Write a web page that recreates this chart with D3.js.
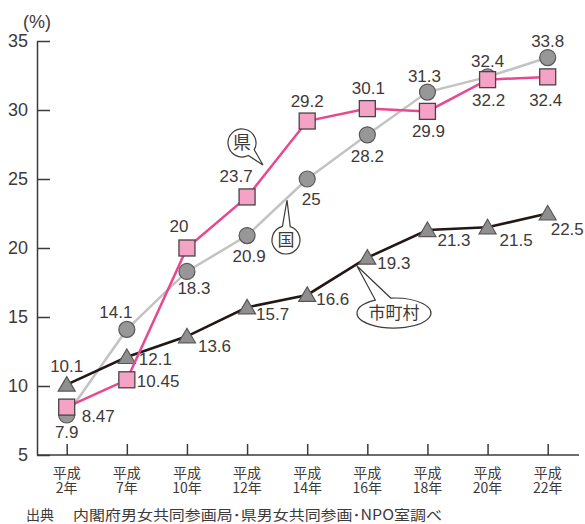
<!DOCTYPE html>
<html>
<head>
<meta charset="utf-8">
<script src="https://cdn.jsdelivr.net/npm/d3@7"></script>
<style>
  body { margin: 0; background: #fff; }
  svg { font-family: "Liberation Sans", Arial, "Noto Sans CJK JP", sans-serif; }
  text { fill: #3e3a39; }
</style>
</head>
<body>
<div id="chart"></div>
<script>
const WIDTH = 585;
const HEIGHT = 524;

// data
const years = ['平成2年', '平成7年', '平成10年', '平成12年', '平成14年', '平成16年', '平成18年', '平成20年', '平成22年'];
const kuni = [7.9, 14.1, 18.3, 20.9, 25, 28.2, 31.3, 32.4, 33.8];
const ken = [8.47, 10.45, 20, 23.7, 29.2, 30.1, 29.9, 32.2, 32.4];
const shichoson = [10.1, 12.1, 13.6, 15.7, 16.6, 19.3, 21.3, 21.5, 22.5];
const kuniText = ['7.9', '14.1', '18.3', '20.9', '25', '28.2', '31.3', '32.4', '33.8'];
const kenText = ['8.47', '10.45', '20', '23.7', '29.2', '30.1', '29.9', '32.2', '32.4'];
const shichosonText = ['10.1', '12.1', '13.6', '15.7', '16.6', '19.3', '21.3', '21.5', '22.5'];
const yTicks = [5, 10, 15, 20, 25, 30, 35];

// label offsets from each point [dx, dy, anchor]
const kuniLabelPos = [[0, 23, 'middle'], [-11, -11, 'middle'], [7, 23, 'middle'], [2, 26, 'middle'], [4, 26, 'middle'],
  [0, 27, 'middle'], [-3, -10, 'middle'], [0, -10, 'middle'], [0, -11, 'middle']];
const kenLabelPos = [[15, 15, 'start'], [10, 7, 'start'], [-8, -16, 'middle'], [-11, -15, 'middle'], [0, -14, 'middle'],
  [1, -15, 'middle'], [1, 26, 'middle'], [1, 26, 'middle'], [-2, 29, 'middle']];
const shichosonLabelPos = [[0, -13, 'middle'], [12, 8, 'start'], [11, 16, 'start'], [9, 13, 'start'], [9, 10, 'start'],
  [10, 11, 'start'], [10, 16, 'start'], [12, 19, 'start'], [3, 21, 'start']];

const svg = d3.select('#chart')
  .append('svg')
  .attr('width', WIDTH)
  .attr('height', HEIGHT);

const x = d3.scalePoint()
  .domain(years)
  .range([66.7, 547.7]);

const y = d3.scaleLinear()
  .domain([5, 35])
  .range([455, 41]);

const AXIS_COLOR = '#3e3a39';

// y axis, ticks pointing inward
const yAxis = svg.append('g')
  .attr('transform', 'translate(37,0)')
  .call(d3.axisLeft(y).tickValues(yTicks).tickSize(-13).tickSizeOuter(0).tickPadding(9));
yAxis.select('.domain').attr('stroke', AXIS_COLOR).attr('stroke-width', 1.5);
yAxis.selectAll('.tick line').attr('stroke', AXIS_COLOR).attr('stroke-width', 1.5);
yAxis.selectAll('.tick text')
  .attr('font-size', 18)
  .attr('font-family', null)
  .attr('fill', '#3e3a39');

svg.append('text')
  .attr('x', 37)
  .attr('y', 28)
  .attr('text-anchor', 'middle')
  .attr('font-size', 18)
  .text('(%)');

// x axis: line runs the whole width
svg.append('line')
  .attr('x1', 37).attr('x2', 579)
  .attr('y1', y(5)).attr('y2', y(5))
  .attr('stroke', AXIS_COLOR)
  .attr('stroke-width', 1.5);

const xAxis = svg.append('g')
  .attr('transform', `translate(0,${y(5)})`)
  .call(d3.axisBottom(x).tickSize(-11).tickSizeOuter(0).tickFormat(''));
xAxis.select('.domain').remove();
xAxis.selectAll('.tick line').attr('stroke', AXIS_COLOR).attr('stroke-width', 1.5);

const xLabels = svg.append('g').attr('font-family', '"Noto Sans CJK JP", sans-serif');
years.forEach(d => {
  const t = xLabels.append('text')
    .attr('text-anchor', 'middle')
    .attr('font-size', 14)
    .attr('x', x(d));
  t.append('tspan').attr('x', x(d)).attr('y', 478).text(d.slice(0, 2));
  t.append('tspan').attr('x', x(d)).attr('y', 493).text(d.slice(2));
});

// source note
svg.append('text')
  .attr('x', 26)
  .attr('y', 520)
  .attr('font-size', 14)
  .attr('font-family', '"Noto Sans CJK JP", sans-serif')
  .text('出典');
svg.append('text')
  .attr('x', 73)
  .attr('y', 520)
  .attr('font-size', 14)
  .attr('font-family', '"Noto Sans CJK JP", sans-serif')
  .attr('textLength', 369)
  .attr('lengthAdjust', 'spacingAndGlyphs')
  .text('内閣府男女共同参画局･県男女共同参画･NPO室調べ');

const line = d3.line()
  .x((d, i) => x(years[i]))
  .y(d => y(d));

// 国
svg.append('path')
  .datum(kuni)
  .attr('d', line)
  .attr('fill', 'none')
  .attr('stroke', '#c3c3c3')
  .attr('stroke-width', 2.5);
svg.append('g').selectAll('circle')
  .data(kuni)
  .join('circle')
  .attr('cx', (d, i) => x(years[i]))
  .attr('cy', d => y(d))
  .attr('r', 8)
  .attr('fill', '#979797')
  .attr('stroke', '#5a5657')
  .attr('stroke-width', 1.2);

// 市町村
svg.append('path')
  .datum(shichoson)
  .attr('d', line)
  .attr('fill', 'none')
  .attr('stroke', '#231815')
  .attr('stroke-width', 2.6);
svg.append('g').selectAll('path')
  .data(shichoson)
  .join('path')
  .attr('transform', (d, i) => `translate(${x(years[i])},${y(d)})`)
  .attr('d', 'M0,-8L8.5,6.5L-8.5,6.5Z')
  .attr('fill', '#8f8f8f')
  .attr('stroke', '#5a5657')
  .attr('stroke-width', 1.2);

// 県
svg.append('path')
  .datum(ken)
  .attr('d', line)
  .attr('fill', 'none')
  .attr('stroke', '#e8488d')
  .attr('stroke-width', 2.5);
svg.append('g').selectAll('rect')
  .data(ken)
  .join('rect')
  .attr('x', (d, i) => x(years[i]) - 8)
  .attr('y', d => y(d) - 8)
  .attr('width', 16)
  .attr('height', 16)
  .attr('fill', '#f4a3c6')
  .attr('stroke', '#4a4344')
  .attr('stroke-width', 1.3);

// callout bubbles
function callout(cx, cy, rx, ry, tx, ty, gap, label, size) {
  const t0 = Math.atan2((ty - cy) / ry, (tx - cx) / rx);
  const a = [cx + rx * Math.cos(t0 - gap), cy + ry * Math.sin(t0 - gap)];
  const b = [cx + rx * Math.cos(t0 + gap), cy + ry * Math.sin(t0 + gap)];
  svg.append('path')
    .attr('d', `M${b[0]},${b[1]}A${rx},${ry} 0 1 1 ${a[0]},${a[1]}L${tx},${ty}Z`)
    .attr('fill', '#fff')
    .attr('stroke', '#3e3a39')
    .attr('stroke-width', 1.2);
  svg.append('text')
    .attr('x', cx)
    .attr('y', cy)
    .attr('dy', '0.36em')
    .attr('text-anchor', 'middle')
    .attr('font-size', size)
    .attr('font-family', '"Noto Sans CJK JP", sans-serif')
    .text(label);
}
callout(242, 143, 14, 14, 263, 165, 0.3, '県', 18);
callout(286, 240, 14, 14, 287, 200, 0.28, '国', 17);
callout(394, 313, 37, 15, 357, 266, 0.22, '市町村', 17);

// value labels
function labels(values, texts, pos) {
  svg.append('g').selectAll('text')
    .data(values)
    .join('text')
    .attr('x', (d, i) => x(years[i]) + pos[i][0])
    .attr('y', (d, i) => y(d) + pos[i][1])
    .attr('text-anchor', (d, i) => pos[i][2])
    .attr('font-size', 17)
    .text((d, i) => texts[i]);
}
labels(kuni, kuniText, kuniLabelPos);
labels(ken, kenText, kenLabelPos);
labels(shichoson, shichosonText, shichosonLabelPos);
</script>
</body>
</html>
